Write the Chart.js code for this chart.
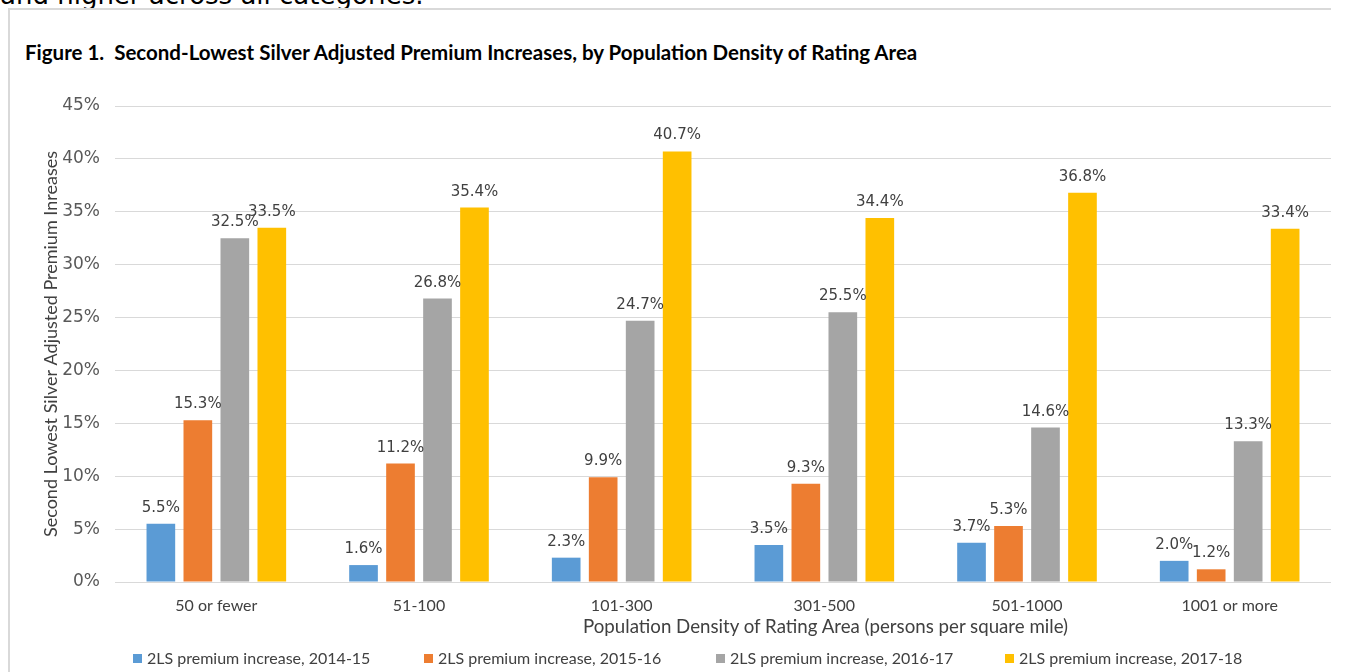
<!DOCTYPE html>
<html>
<head>
<meta charset="utf-8">
<script src="https://cdn.jsdelivr.net/npm/chart.js@4"></script>
<style>
  html, body { margin: 0; padding: 0; background: #fff; }
  #wrap { position: relative; width: 1362px; height: 672px; overflow: hidden; }
  #toptext { position: absolute; left: 0; top: -18px; font-family: "DejaVu Sans", sans-serif; font-size: 26px; line-height: 26px; color: #000; white-space: pre; }
  #frame { position: absolute; left: 8px; top: 8px; width: 1323px; height: 700px; border-top: 2px solid #d9d9d9; border-left: 2px solid #d9d9d9; box-sizing: border-box; }
  #title { position: absolute; left: 25px; top: 40px; font-family: Lato, sans-serif; font-weight: bold; font-size: 20.5px; line-height: 24px; color: #000; white-space: pre; }
  canvas { position: absolute; left: 0; top: 0; }
  #xtitle { position: absolute; left: 583px; top: 615px; font-family: Lato, sans-serif; font-size: 18.7px; line-height: 22px; color: #404040; white-space: pre; }
  #legend { position: absolute; left: 0; top: 649px; height: 20px; font-family: Lato, sans-serif; font-size: 16px; color: #404040; }
  .li { position: absolute; top: 0; white-space: nowrap; line-height: 18px; }
  .sw { display: inline-block; width: 9px; height: 9px; margin-right: 5px; vertical-align: 1px; }
</style>
</head>
<body>
<div id="wrap">
  <div id="toptext">and higher across all categories.</div>
  <div id="frame"></div>
  <div id="title"></div>
  <canvas id="c" width="1362" height="672"></canvas>
  <div id="xtitle"></div>
  <div id="legend"></div>
</div>
<script>
const titleText = "Figure 1.  Second-Lowest Silver Adjusted Premium Increases, by Population Density of Rating Area";
const categories = ["50 or fewer", "51-100", "101-300", "301-500", "501-1000", "1001 or more"];
const seriesNames = ["2LS premium increase, 2014-15", "2LS premium increase, 2015-16", "2LS premium increase, 2016-17", "2LS premium increase, 2017-18"];
const s2014 = [5.5, 1.6, 2.3, 3.5, 3.7, 2.0];
const s2015 = [15.3, 11.2, 9.9, 9.3, 5.3, 1.2];
const s2016 = [32.5, 26.8, 24.7, 25.5, 14.6, 13.3];
const s2017 = [33.5, 35.4, 40.7, 34.4, 36.8, 33.4];
const yTicks = [0, 5, 10, 15, 20, 25, 30, 35, 40, 45];
const yTitle = "Second Lowest Silver Adjusted Premium Inreases";
const xTitle = "Population Density of Rating Area (persons per square mile)";
const colors = ["#5b9bd5", "#ed7d31", "#a5a5a5", "#ffc000"];

document.getElementById('title').textContent = titleText;
document.getElementById('xtitle').textContent = xTitle;

const allSeries = [s2014, s2015, s2016, s2017];
const legendLefts = [133, 424, 716, 1005];
const leg = document.getElementById('legend');
seriesNames.forEach((n, i) => {
  const d = document.createElement('div');
  d.className = 'li';
  d.style.left = legendLefts[i] + 'px';
  d.innerHTML = '<span class="sw" style="background:' + colors[i] + '"></span>' + n;
  leg.appendChild(d);
});

const labelPlugin = {
  id: 'barLabels',
  afterDatasetsDraw(chart) {
    const ctx = chart.ctx;
    ctx.save();
    ctx.font = '15px "DejaVu Sans"';
    ctx.fillStyle = '#404040';
    ctx.textAlign = 'center';
    ctx.textBaseline = 'alphabetic';
    chart.data.datasets.forEach((ds, i) => {
      chart.getDatasetMeta(i).data.forEach((bar, j) => {
        ctx.fillText(ds.data[j].toFixed(1) + '%', bar.x, bar.y - 12);
      });
    });
    ctx.restore();
  }
};

new Chart(document.getElementById('c'), {
  type: 'bar',
  data: {
    labels: categories,
    datasets: allSeries.map((d, i) => ({
      label: seriesNames[i],
      data: d,
      backgroundColor: colors[i],
      borderWidth: 0,
      categoryPercentage: 0.73,
      barPercentage: 0.775
    }))
  },
  options: {
    responsive: false,
    animation: false,
    layout: { padding: { top: 106, right: 31, left: 0, bottom: 0 } },
    plugins: { legend: { display: false }, title: { display: false }, tooltip: { enabled: false } },
    scales: {
      x: {
        grid: { display: false, drawTicks: false },
        border: { display: false },
        ticks: { color: '#404040', font: { family: 'Lato', size: 16 }, padding: 14, maxRotation: 0 },
        title: { display: false, text: xTitle },
        afterFit(scale) { scale.height = 90; }
      },
      y: {
        min: 0, max: 45,
        afterBuildTicks(scale) { scale.ticks = yTicks.map(v => ({ value: v })); },
        grid: { color: '#d9d9d9', lineWidth: 1, drawTicks: false },
        border: { display: false },
        ticks: { color: '#595959', font: { family: 'DejaVu Sans', size: 17 }, padding: 15, callback: v => v + '%' },
        title: { display: true, text: yTitle, color: '#404040', font: { family: 'Lato', size: 18 }, padding: { top: 40, bottom: 0 } },
        afterFit(scale) { scale.width = 115; }
      }
    }
  },
  plugins: [labelPlugin]
});
</script>
</body>
</html>
